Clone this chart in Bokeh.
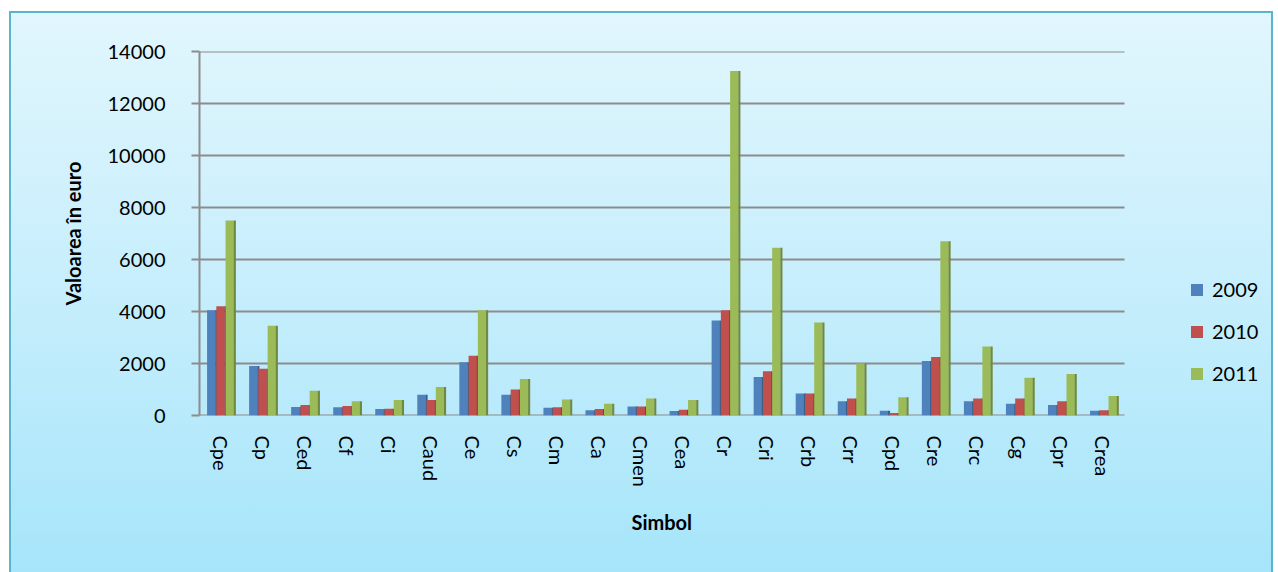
from bokeh.plotting import figure
from bokeh.models import (ColumnDataSource, Legend, LegendItem, InlineStyleSheet,
                          FixedTicker, Range1d, Title)
from bokeh.embed import file_html
from bokeh.resources import INLINE

categories = ["Cpe", "Cp", "Ced", "Cf", "Ci", "Caud", "Ce", "Cs", "Cm", "Ca", "Cmen",
              "Cea", "Cr", "Cri", "Crb", "Crr", "Cpd", "Cre", "Crc", "Cg", "Cpr", "Crea"]
v2009 = [4050, 1900, 330, 320, 250, 800, 2050, 800, 300, 200, 350,
         170, 3650, 1480, 850, 550, 180, 2100, 550, 450, 400, 180]
v2010 = [4200, 1800, 400, 370, 260, 600, 2300, 1000, 320, 250, 350,
         220, 4050, 1700, 850, 650, 100, 2250, 650, 650, 550, 200]
v2011 = [7500, 3450, 950, 550, 600, 1100, 4050, 1400, 620, 450, 650,
         600, 13250, 6450, 3580, 2000, 700, 6700, 2650, 1450, 1600, 750]
years = ["2009", "2010", "2011"]
y_ticks = [0, 2000, 4000, 6000, 8000, 10000, 12000, 14000]

front = ["#4f81bd", "#c0504d", "#9bbb59"]
side = ["#385d8a", "#8c3836", "#71893f"]

idx = list(range(len(categories)))
series = {"2009": v2009, "2010": v2010, "2011": v2011}

FONT = "Lato"

# layout geometry (pixels)
W, H = 1264, 564
LEFT, RIGHT, TOP, BOTTOM = 188, 2, 38, 162
frame_w = W - LEFT - RIGHT
cat_px = 925 / len(categories)
x_start = -0.5
x_end = x_start + frame_w / cat_px
x_last = len(categories) - 0.5

p = figure(x_range=Range1d(x_start, x_end), y_range=(0, 14000), width=W, height=H,
           output_backend="svg", toolbar_location=None,
           min_border_left=LEFT, min_border_right=RIGHT, min_border_top=TOP, min_border_bottom=BOTTOM)
p.background_fill_alpha = 0
p.border_fill_alpha = 0
p.outline_line_color = None
p.stylesheets = [InlineStyleSheet(css=":host { background: linear-gradient(to bottom, #e1f6fd 0%, #c6eefc 50%, #a6e5fa 100%); border: 2px solid #5ab4cc; box-sizing: border-box; }")]
p.styles = {"margin-left": "9px", "margin-top": "11px"}

# horizontal gridlines (only across the category area)
p.segment(x0=[x_start] * len(y_ticks), x1=[x_last] * len(y_ticks), y0=y_ticks, y1=y_ticks,
          line_color="#8c8c8c", line_width=2)

offsets = [-0.22, 0.0, 0.22]
items = []
for i, yr in enumerate(years):
    vals = series[yr]
    src = ColumnDataSource(dict(x=[v + offsets[i] for v in idx],
                                xs=[v + offsets[i] + 0.12 for v in idx], top=vals))
    rr = p.vbar(x="x", top="top", width=0.2, source=src, fill_color=front[i], line_color=None)
    p.vbar(x="xs", top="top", width=0.05, source=src, fill_color=side[i], line_color=None)
    items.append(LegendItem(label=yr, renderers=[rr]))

legend = Legend(items=items, location=(990, 30), label_text_font=FONT, label_text_font_size="20px",
                label_text_color="#000000",
                glyph_width=15, glyph_height=15, spacing=18, padding=0, margin=0,
                background_fill_alpha=0, border_line_color=None, label_standoff=8)
p.add_layout(legend)

p.xgrid.grid_line_color = None
p.ygrid.grid_line_color = None

for ax in (p.xaxis, p.yaxis):
    ax.axis_line_color = "#8c8c8c"
    ax.axis_line_width = 2
    ax.major_tick_line_color = "#8c8c8c"
    ax.major_tick_line_width = 2
    ax.minor_tick_line_color = None
    ax.major_label_text_font = FONT
    ax.major_label_text_font_size = "20px"
    ax.major_label_text_color = "#000000"
    ax.axis_label_text_font = FONT
    ax.axis_label_text_font_size = "20px"
    ax.axis_label_text_font_style = "bold"
    ax.axis_label_text_color = "#000000"

p.yaxis.ticker = FixedTicker(ticks=y_ticks)
p.yaxis.axis_label = "Valoarea în euro"
p.yaxis.major_tick_out = 8
p.yaxis.major_tick_in = 0
p.yaxis.major_label_standoff = 26
p.yaxis.axis_label_standoff = 20

p.xaxis.ticker = FixedTicker(ticks=idx)
p.xaxis.major_label_overrides = {i: c for i, c in zip(idx, categories)}
p.xaxis.axis_line_color = None
p.xaxis.major_tick_line_color = None
p.xaxis.major_label_orientation = "vertical"
p.xaxis.major_label_standoff = 14

# x-axis title, centred under the category area
x_title = Title(text="Simbol", align="left", offset=432, text_font=FONT, text_font_size="20px",
                text_font_style="bold", text_color="#000000", standoff=36)
p.add_layout(x_title, "below")

open("out.html", "w").write(file_html(p, INLINE))
